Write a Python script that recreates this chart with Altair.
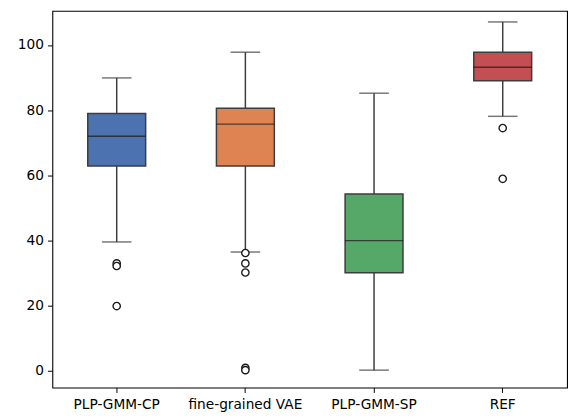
import altair as alt
import pandas as pd

categories = ["PLP-GMM-CP", "fine-grained VAE", "PLP-GMM-SP", "REF"]
whisker_low = [39.5, 36.4, 0.1, 78.1]
q1 = [62.8, 62.8, 30.0, 89.0]
median = [72.0, 75.7, 39.9, 93.2]
q3 = [79.0, 80.6, 54.2, 97.8]
whisker_high = [89.9, 97.8, 85.2, 107.1]
colors = ["#4c72b0", "#dd8452", "#55a868", "#c44e52"]

outlier_cat = ["PLP-GMM-CP", "PLP-GMM-CP", "PLP-GMM-CP",
               "fine-grained VAE", "fine-grained VAE", "fine-grained VAE",
               "fine-grained VAE", "fine-grained VAE",
               "REF", "REF"]
outlier_val = [32.9, 32.1, 19.8,
               36.1, 32.9, 30.1, 0.8, 0.1,
               74.5, 58.9]

y_ticks = [0, 20, 40, 60, 80, 100]

stats = pd.DataFrame({
    "cat": categories, "lo": whisker_low, "q1": q1, "med": median,
    "q3": q3, "hi": whisker_high,
})
outl = pd.DataFrame({"cat": outlier_cat, "val": outlier_val})

line_col = "#3d3d3d"
xenc = alt.X("cat:N", sort=categories,
             scale=alt.Scale(paddingInner=0, paddingOuter=0),
             axis=alt.Axis(title=None, labelAngle=0, domain=False,
                           tickColor="black", tickSize=5, labelPadding=5,
                           labelFont="DejaVu Sans", labelFontSize=13.9,
                           labelColor="black"))
yscale = alt.Scale(domain=[-5.24, 110.5], nice=False, zero=False)
yaxis = alt.Axis(title=None, values=y_ticks, grid=False, domain=False,
                 tickColor="black", tickSize=5, labelPadding=4,
                 labelFont="DejaVu Sans", labelFontSize=13.9,
                 labelColor="black")

base = alt.Chart(stats)

whisk = base.mark_rule(color=line_col, strokeWidth=1.5).encode(
    x=xenc,
    y=alt.Y("lo:Q", scale=yscale, axis=yaxis),
    y2="hi:Q",
)
caps_lo = base.mark_tick(color=line_col, size=30, thickness=1.5).encode(
    x=alt.X("cat:N", sort=categories), y=alt.Y("lo:Q", scale=yscale))
caps_hi = base.mark_tick(color=line_col, size=30, thickness=1.5).encode(
    x=alt.X("cat:N", sort=categories), y=alt.Y("hi:Q", scale=yscale))
box = base.mark_bar(width=alt.RelativeBandSize(0.45), stroke=line_col,
                    strokeWidth=1.5).encode(
    x=alt.X("cat:N", sort=categories),
    y=alt.Y("q1:Q", scale=yscale),
    y2="q3:Q",
    color=alt.Color("cat:N", scale=alt.Scale(domain=categories, range=colors),
                    legend=None),
)
med = base.mark_tick(color="#1a1a1a", size=59, thickness=1.5).encode(
    x=alt.X("cat:N", sort=categories), y=alt.Y("med:Q", scale=yscale))
pts = alt.Chart(outl).mark_point(shape="circle", fill="white", filled=True,
                                  stroke="#1a1a1a", strokeWidth=1.4, size=55,
                                  opacity=1).encode(
    x=alt.X("cat:N", sort=categories), y=alt.Y("val:Q", scale=yscale))

chart = alt.layer(whisk, caps_lo, caps_hi, box, med, pts).properties(
    width=522, height=382,
    autosize=alt.AutoSizeParams(type="none"),
    padding={"left": 45, "top": 0, "right": 4, "bottom": 29},
    background="white",
).configure_view(stroke="black", strokeWidth=1.1)

chart.save("out.html", embed_options={"renderer": "svg", "actions": False})
